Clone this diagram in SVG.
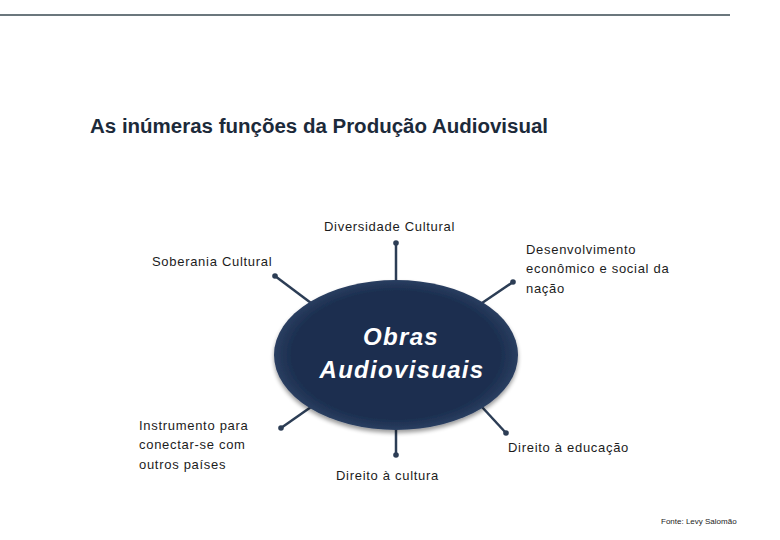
<svg xmlns="http://www.w3.org/2000/svg" width="780" height="540" viewBox="0 0 780 540">
<style>
.lbl{font-family:"Liberation Sans",Arial,sans-serif;font-size:13px;fill:#1c1c1c;letter-spacing:0.7px}
.con{stroke:#2c3d55;stroke-width:2.5;fill:none}
.dot{fill:#2c3d55}
.center{font-family:"Liberation Sans",Arial,sans-serif;font-size:24px;font-style:italic;font-weight:bold;fill:#ffffff;letter-spacing:1.3px}
</style>
<defs>
<radialGradient id="eg" cx="50%" cy="50%" r="50%">
<stop offset="0.85" stop-color="#1b2e4f"/>
<stop offset="1" stop-color="#2a3e60"/>
</radialGradient>
<filter id="sh" x="-10%" y="-10%" width="120%" height="130%">
<feGaussianBlur in="SourceAlpha" stdDeviation="2"/>
<feOffset dx="0" dy="3" result="b"/>
<feComponentTransfer><feFuncA type="linear" slope="0.4"/></feComponentTransfer>
<feMerge><feMergeNode/><feMergeNode in="SourceGraphic"/></feMerge>
</filter>
</defs>
<rect width="780" height="540" fill="#ffffff"/>
<line x1="0" y1="15" x2="730" y2="15" stroke="#3a4a52" stroke-width="1.5"/>
<text x="90" y="133" font-family="'Liberation Sans',Arial,sans-serif" font-size="20" font-weight="bold" fill="#1c2a3a" textLength="458" lengthAdjust="spacingAndGlyphs">As inúmeras funções da Produção Audiovisual</text>
<g id="connectors">
<line class="con" x1="396" y1="282" x2="396" y2="243"/><circle class="dot" cx="396" cy="243" r="2.8"/>
<line class="con" x1="311" y1="303" x2="275" y2="276"/><circle class="dot" cx="275" cy="276" r="2.8"/>
<line class="con" x1="482" y1="303" x2="513" y2="282"/><circle class="dot" cx="513" cy="282" r="2.8"/>
<line class="con" x1="311" y1="407" x2="281" y2="428"/><circle class="dot" cx="281" cy="428" r="2.8"/>
<line class="con" x1="482" y1="407" x2="506" y2="433"/><circle class="dot" cx="506" cy="433" r="2.8"/>
<line class="con" x1="396" y1="428" x2="396" y2="455"/><circle class="dot" cx="396" cy="455" r="2.8"/>
</g>
<g id="center-node">
<ellipse cx="396" cy="355" rx="122" ry="75" fill="url(#eg)" filter="url(#sh)"/>
<text class="center" x="401" y="345" text-anchor="middle">Obras</text>
<text class="center" x="402" y="378" text-anchor="middle">Audiovisuais</text>
</g>
<g id="diversidade"><text class="lbl" x="324" y="231">Diversidade Cultural</text></g>
<g id="soberania"><text class="lbl" x="152" y="266">Soberania Cultural</text></g>
<g id="desenvolvimento"><text class="lbl" x="526" y="254">Desenvolvimento</text><text class="lbl" x="526" y="273">econômico e social da</text><text class="lbl" x="526" y="293">nação</text></g>
<g id="instrumento"><text class="lbl" x="139" y="430">Instrumento para</text><text class="lbl" x="139" y="449">conectar-se com</text><text class="lbl" x="139" y="469">outros países</text></g>
<g id="educacao"><text class="lbl" x="508" y="452">Direito à educação</text></g>
<g id="cultura"><text class="lbl" x="336" y="480">Direito à cultura</text></g>
<text x="661" y="524" font-family="'Liberation Sans',Arial,sans-serif" font-size="8" fill="#1c1c1c">Fonte: Levy Salomão</text>
</svg>
